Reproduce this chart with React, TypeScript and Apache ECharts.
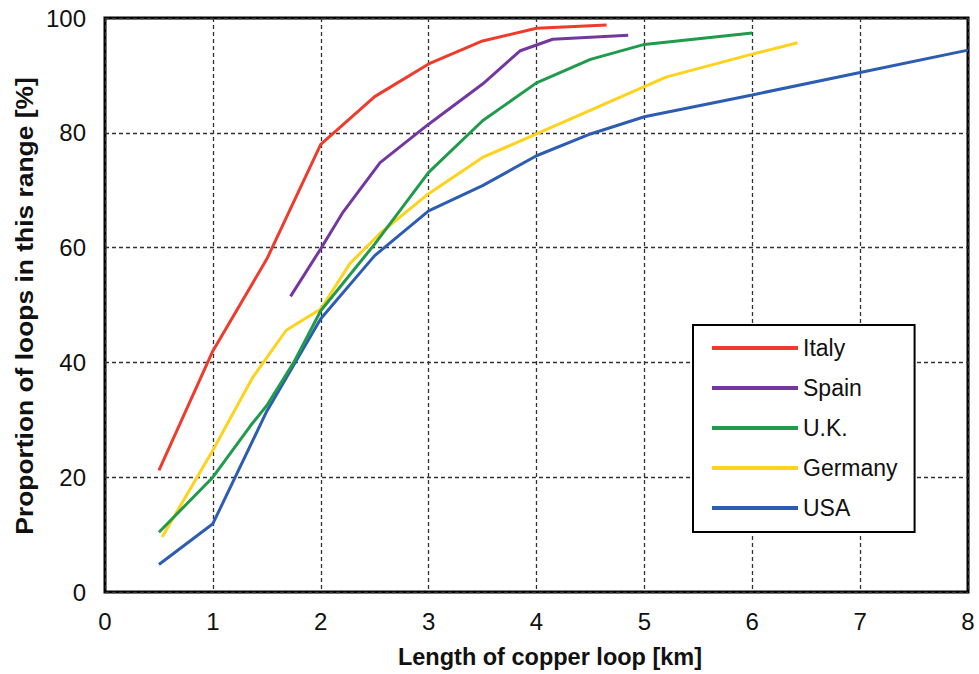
import React, { useEffect, useRef } from "react";
import * as echarts from "echarts";

const seriesNames = ["Italy", "Spain", "U.K.", "Germany", "USA"];
const seriesColors = ["#EE3B2B", "#7437A0", "#1F9B4B", "#FFD21C", "#2D5DB2"];

const italy: [number, number][] = [
  [0.5, 21.2], [1, 42], [1.5, 58], [2, 78], [2.5, 86.3], [3, 92], [3.5, 96], [4, 98.2], [4.65, 98.8],
];
const spain: [number, number][] = [
  [1.72, 51.5], [2, 59.8], [2.2, 66], [2.55, 74.8], [3, 81.5], [3.5, 88.5], [3.85, 94.3], [4.15, 96.3], [4.85, 97],
];
const uk: [number, number][] = [
  [0.5, 10.4], [1, 20], [1.35, 29], [1.5, 32.5], [1.75, 40], [2, 49], [2.5, 60.6], [3, 73.1], [3.5, 82.1],
  [4, 88.7], [4.5, 92.8], [5, 95.4], [6, 97.4],
];
const germany: [number, number][] = [
  [0.53, 9.6], [1, 24.7], [1.37, 37.4], [1.68, 45.6], [2, 49.3], [2.27, 57.2], [2.55, 62.5], [3, 69.4],
  [3.5, 75.7], [4, 79.8], [5.2, 89.7], [6, 93.7], [6.42, 95.7],
];
const usa: [number, number][] = [
  [0.5, 4.8], [1, 11.9], [1.5, 31.5], [2, 47.6], [2.5, 58.6], [3, 66.4], [3.5, 70.8], [4, 76], [4.5, 79.8],
  [5, 82.8], [6, 86.6], [7, 90.5], [8, 94.4],
];
const allData = [italy, spain, uk, germany, usa];

const xTitle = "Length of copper loop [km]";
const yTitle = "Proportion of loops in this range [%]";

const FONT = "'Liberation Sans', Arial, Helvetica, sans-serif";

export default function App() {
  const ref = useRef<HTMLDivElement>(null);
  useEffect(() => {
    document.body.style.margin = "0";
    if (!ref.current) return;
    const chart = echarts.init(ref.current, null, { renderer: "svg" });
    chart.setOption({
      animation: false,
      backgroundColor: "#ffffff",
      textStyle: { fontFamily: FONT },
      grid: {
        left: 105,
        right: 11,
        top: 18,
        bottom: 82,
        show: true,
        borderColor: "#000",
        borderWidth: 3,
        containLabel: false,
      },
      xAxis: {
        type: "value",
        min: 0,
        max: 8,
        interval: 1,
        axisLine: { show: false },
        axisTick: { show: false },
        axisLabel: { color: "#111", fontSize: 24, fontFamily: FONT, margin: 17 },
        splitLine: { show: true, lineStyle: { color: "#333", width: 1.3, type: [4, 3] } },
      },
      yAxis: {
        type: "value",
        min: 0,
        max: 100,
        interval: 20,
        axisLine: { show: false },
        axisTick: { show: false },
        axisLabel: { color: "#111", fontSize: 24, fontFamily: FONT, margin: 19 },
        splitLine: { show: true, lineStyle: { color: "#333", width: 1.3, type: [4, 3] } },
      },
      legend: {
        orient: "vertical",
        left: 693,
        top: 325,
        data: seriesNames,
        icon: "rect",
        itemWidth: 86,
        itemHeight: 4,
        itemGap: 16,
        itemTextGap: 11,
        padding: [11, 17, 12, 19],
        backgroundColor: "#fff",
        borderColor: "#000",
        borderWidth: 2,
        textStyle: { color: "#111", fontSize: 23, fontFamily: FONT, lineHeight: 24 },
      },
      graphic: [
        {
          type: "text",
          x: 550,
          y: 657,
          style: {
            text: xTitle,
            fill: "#111",
            font: `bold 23.5px ${FONT}`,
            align: "center",
            verticalAlign: "middle",
          },
        },
        {
          type: "text",
          x: 24,
          y: 306,
          rotation: Math.PI / 2,
          scaleX: 1.1,
          style: {
            text: yTitle,
            fill: "#111",
            font: `bold 24px ${FONT}`,
            align: "center",
            verticalAlign: "middle",
          },
        },
      ],
      series: allData.map((d, i) => ({
        name: seriesNames[i],
        type: "line",
        data: d,
        showSymbol: false,
        symbol: "none",
        color: seriesColors[i],
        lineStyle: { color: seriesColors[i], width: 3 },
        z: 10 - i,
      })),
    });
    return () => chart.dispose();
  }, []);
  return <div ref={ref} style={{ width: 979, height: 674 }} />;
}
